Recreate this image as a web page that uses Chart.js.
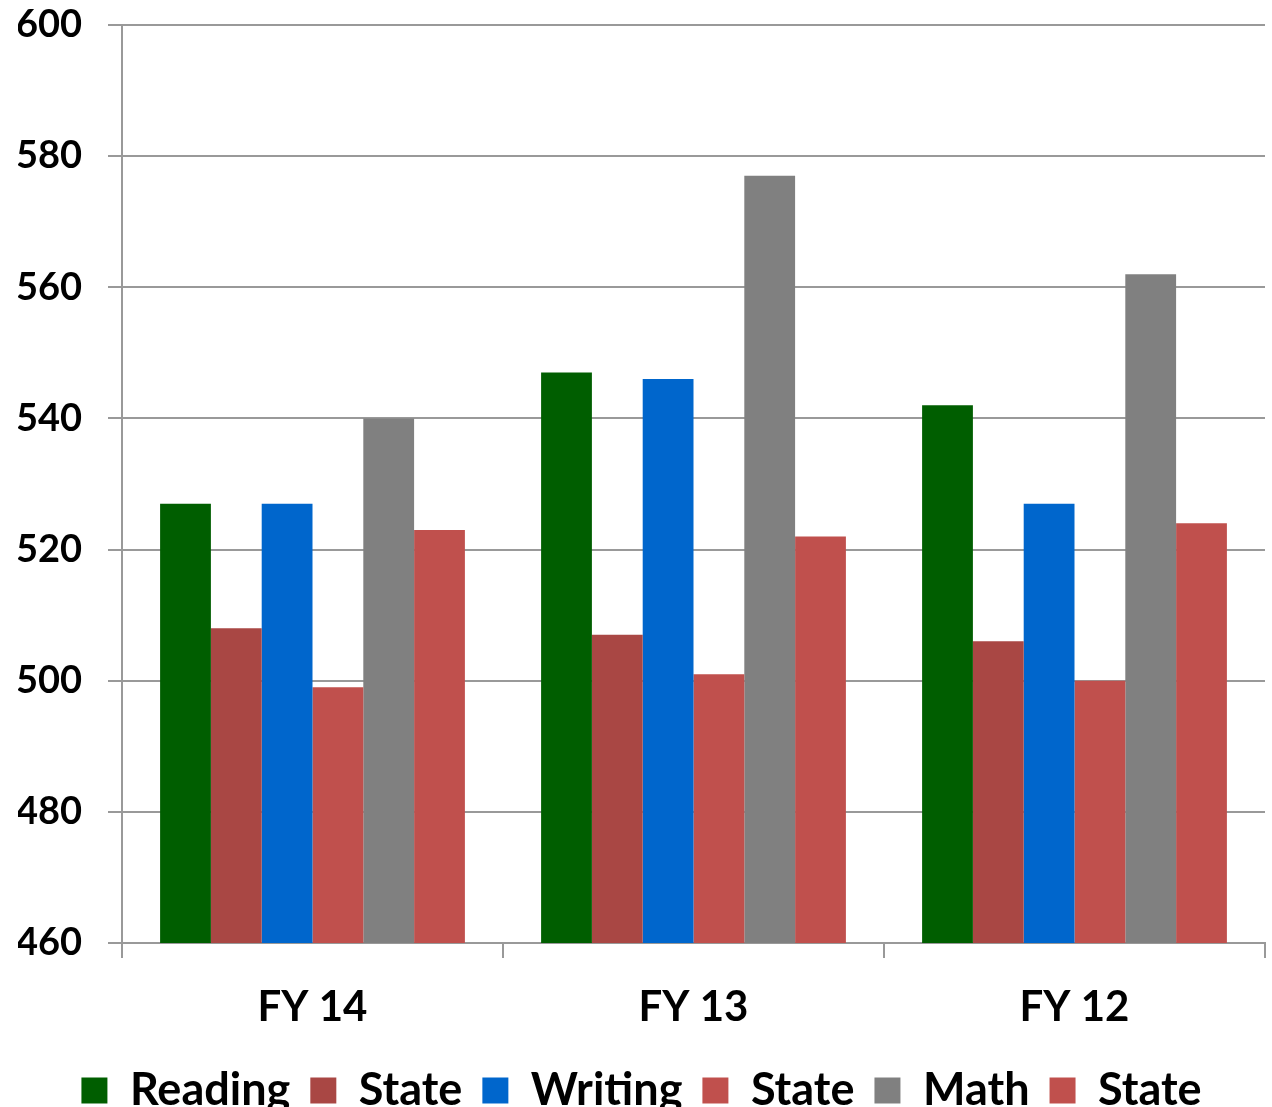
<!DOCTYPE html>
<html>
<head>
<meta charset="utf-8">
<script src="https://cdn.jsdelivr.net/npm/chart.js@4/dist/chart.umd.min.js"></script>
<style>
html,body{margin:0;padding:0;background:#fff;}
#wrap{width:1272px;height:1107px;}
</style>
</head>
<body>
<div id="wrap"><canvas id="c" width="1272" height="1107"></canvas></div>
<script>
const categories = ["FY 14", "FY 13", "FY 12"];
const reading = [527, 547, 542];
const readingState = [508, 507, 506];
const writing = [527, 546, 527];
const writingState = [499, 501, 500];
const math = [540, 577, 562];
const mathState = [523, 522, 524];
const seriesNames = ["Reading", "State", "Writing", "State", "Math", "State"];
const seriesColors = ["#005E00", "#A94744", "#0066CC", "#C0504D", "#808080", "#C0504D"];
const yTicks = [460, 480, 500, 520, 540, 560, 580, 600];

const seriesData = [reading, readingState, writing, writingState, math, mathState];
const FONT = "Lato, 'Open Sans', 'Liberation Sans', sans-serif";

new Chart(document.getElementById('c'), {
  type: 'bar',
  data: {
    labels: categories,
    datasets: seriesData.map((d, i) => ({
      label: seriesNames[i],
      data: d,
      backgroundColor: seriesColors[i],
      borderWidth: 0,
      categoryPercentage: 0.8,
      barPercentage: 1.0
    }))
  },
  options: {
    responsive: false,
    animation: false,
    devicePixelRatio: 1,
    layout: { autoPadding: false, padding: { left: 18, right: 7, top: 25, bottom: -16 } },
    plugins: {
      tooltip: { enabled: false },
      legend: {
        position: 'bottom',
        labels: {
          color: '#000',
          font: { family: FONT, size: 45, weight: 'bold' },
          boxWidth: 26,
          boxHeight: 26,
          padding: 20
        }
      }
    },
    scales: {
      x: {
        offset: true,
        afterFit: (axis) => { axis.height = 105; axis.paddingBottom = 0; axis.paddingTop = 0; },
        grid: {
          offset: true,
          drawOnChartArea: false,
          drawTicks: true,
          tickLength: 15,
          color: '#999999',
          lineWidth: 2
        },
        border: { display: true, color: '#999999', width: 2 },
        ticks: {
          color: '#000',
          font: { family: FONT, size: 42, weight: 'bold' },
          padding: 24
        }
      },
      y: {
        min: 460,
        max: 600,
        afterBuildTicks: (axis) => { axis.ticks = yTicks.map(v => ({ value: v })); },
        afterFit: (axis) => { axis.width = 104; axis.paddingTop = 0; axis.paddingBottom = 0; },
        grid: {
          color: '#999999',
          lineWidth: 2,
          drawTicks: true,
          tickLength: 14
        },
        border: { display: true, color: '#999999', width: 2 },
        ticks: {
          color: '#000',
          font: { family: FONT, size: 38, weight: 'bold' },
          padding: 26
        }
      }
    }
  }
});
</script>
</body>
</html>
